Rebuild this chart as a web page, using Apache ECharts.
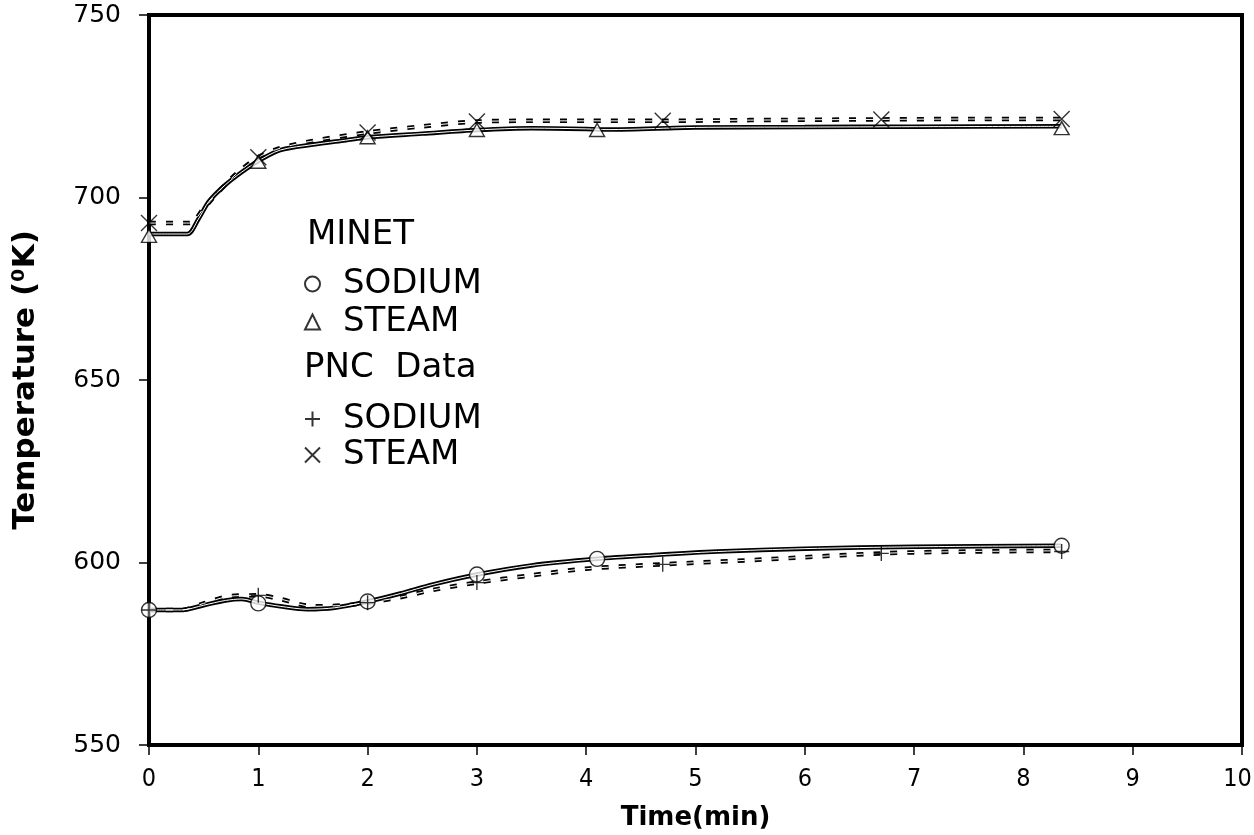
<!DOCTYPE html>
<html>
<head>
<meta charset="utf-8">
<script src="https://cdn.jsdelivr.net/npm/echarts@6/dist/echarts.min.js"></script>
<style>
html,body{margin:0;padding:0;background:#fff;}
#chart{width:1254px;height:835px;}
</style>
</head>
<body>
<div id="chart"></div>
<script>
// ---- data ----
var xTicks = [0,1,2,3,4,5,6,7,8,9,10];
var yTicks = [550,600,650,700,750];

// MINET sodium (solid line)
var minetSodiumT = [0, 0.3, 0.5, 0.7, 0.85, 1.0, 1.2, 1.45, 1.7, 2.0, 2.3, 2.6, 3.0, 3.5, 4.1, 4.6, 5.2, 6.0, 7.0, 8.35];
var minetSodiumV = [587, 587, 588.3, 589.6, 590, 589, 588, 587.2, 587.6, 589.3, 591.5, 594, 596.7, 599.2, 601, 602, 603, 603.8, 604.3, 604.6];
// PNC sodium (dashed line)
var pncSodiumT = [0, 0.3, 0.5, 0.75, 1.0, 1.2, 1.5, 1.8, 2.0, 2.3, 2.6, 3.0, 3.5, 4.0, 4.7, 5.6, 6.7, 7.5, 8.35];
var pncSodiumV = [587, 587, 588.8, 590.8, 591, 590, 588, 588.3, 589, 590.5, 592.5, 594.5, 596.5, 598.3, 599.5, 600.8, 602.5, 603, 603.2];
// MINET steam (solid line)
var minetSteamT = [0, 0.35, 0.45, 0.55, 0.7, 0.85, 1.0, 1.2, 1.5, 1.8, 2.0, 2.5, 3.0, 3.5, 4.0, 4.2, 5.0, 6.0, 7.0, 8.35];
var minetSteamV = [690, 690, 694, 699, 703.5, 707, 710, 713, 714.5, 715.7, 716.5, 717.5, 718.5, 719, 718.8, 718.6, 719.2, 719.3, 719.4, 719.5];
// PNC steam (dashed line)
var pncSteamT = [0, 0.37, 0.5, 0.65, 0.8, 1.0, 1.2, 1.5, 2.0, 2.5, 3.0, 3.5, 4.0, 4.7, 5.5, 6.7, 7.5, 8.35];
var pncSteamV = [693, 693, 697, 702, 706.5, 711, 713.5, 715.5, 717.8, 719.5, 720.8, 721, 721, 721, 721.2, 721.4, 721.5, 721.5];

// markers
var circleT = [0, 1.0, 2.0, 3.0, 4.1, 8.35];
var circleV = [587, 588.8, 589.3, 596.7, 601, 604.6];
var triT = [0, 1.0, 2.0, 3.0, 4.1, 8.35];
var triV = [689.5, 709.8, 716.5, 718.5, 718.5, 719];
var plusT = [0, 1.0, 2.0, 3.0, 4.7, 6.7, 8.35];
var plusV = [587, 591, 589, 594.5, 599.5, 602.5, 603];
var crossT = [0, 1.0, 2.0, 3.0, 4.7, 6.7, 8.35];
var crossV = [693, 711, 717.8, 720.8, 721, 721.4, 721.5];

function zip(a, b) { return a.map(function (v, i) { return [v, b[i]]; }); }

var FONT = 'DejaVu Sans';
var PLUS = 'path://M5,0L5,10M0,5L10,5';
var CROSS = 'path://M0,0L10,10M10,0L0,10';

function doubleLine(name, t, v, dashed) {
  var d = zip(t, v);
  var dash = dashed ? [7, 10] : 'solid';
  return [
    {name: name + '_o', type: 'line', data: d, symbol: 'none', smooth: 0.3, silent: true, z: 2,
     lineStyle: {color: '#000', width: 4.5, type: dash}},
    {name: name + '_i', type: 'line', data: d, symbol: 'none', smooth: 0.3, silent: true, z: 3,
     lineStyle: {color: '#fff', width: 1, type: dash}}
  ];
}

function markers(name, t, v, sym, size) {
  return {name: name, type: 'scatter', data: zip(t, v), symbol: sym, symbolSize: size, z: 5,
    itemStyle: {color: '#fff', borderColor: '#000', borderWidth: 1.4}};
}

var series = [].concat(
  doubleLine('ms', minetSodiumT, minetSodiumV, false),
  doubleLine('ps', pncSodiumT, pncSodiumV, true),
  doubleLine('mt', minetSteamT, minetSteamV, false),
  doubleLine('pt', pncSteamT, pncSteamV, true),
  [
    markers('MINET SODIUM', circleT, circleV, 'circle', 15),
    markers('MINET STEAM', triT, triV, 'triangle', [15, 13]),
    markers('PNC SODIUM', plusT, plusV, PLUS, 15),
    markers('PNC STEAM', crossT, crossV, CROSS, 16)
  ]
);

var chart = echarts.init(document.getElementById('chart'));
var legendText = {fontFamily: FONT, fontSize: 34, color: '#000', lineHeight: 30, padding: [0, 0, 0, 18]};
chart.setOption({
  animation: false,
  backgroundColor: '#fff',
  grid: {left: 149, right: 12, top: 15, bottom: 90, show: true, borderColor: '#000', borderWidth: 4,
         containLabel: false, outerBoundsMode: 'none'},
  xAxis: {
    type: 'value', min: 0, max: 10, interval: 1,
    name: 'Time(min)', nameLocation: 'middle', nameGap: 60,
    nameTextStyle: {fontFamily: FONT, fontSize: 26, fontWeight: 'bold', color: '#000'},
    axisLine: {lineStyle: {color: '#000', width: 4}},
    axisTick: {inside: false, length: 10, lineStyle: {color: '#000', width: 1.5}},
    axisLabel: {fontFamily: 'DejaVu Sans Condensed', fontSize: 25, color: '#000', margin: 22,
      rich: {r: {fontFamily: 'DejaVu Sans Condensed', fontSize: 25, color: '#000', padding: [0, 9, 0, 0]}},
      formatter: function (v) {
        if (xTicks.indexOf(v) < 0) return '';
        return v === xTicks[xTicks.length - 1] ? '{r|' + v + '}' : String(v);
      }},
    splitLine: {show: false}
  },
  yAxis: {
    type: 'value', min: 550, max: 750, interval: 50,
    name: 'Temperature (\u2070K)', nameLocation: 'middle', nameGap: 108,
    nameTextStyle: {fontFamily: FONT, fontSize: 31, fontWeight: 'bold', color: '#000'},
    axisLine: {lineStyle: {color: '#000', width: 4}},
    axisTick: {inside: false, length: 10, lineStyle: {color: '#000', width: 1.5}},
    axisLabel: {fontFamily: FONT, fontSize: 25, color: '#000', margin: 28,
      formatter: function (v) { return yTicks.indexOf(v) >= 0 ? String(v) : ''; }},
    splitLine: {show: false}
  },
  legend: [
    {orient: 'vertical', left: 299, top: 262, itemGap: 4, itemWidth: 15, itemHeight: 15,
     data: [{name: 'MINET SODIUM', icon: 'circle'}, {name: 'MINET STEAM', icon: 'triangle'}],
     formatter: function (n) { return n.split(' ')[1]; }, textStyle: legendText, selectedMode: false},
    {orient: 'vertical', left: 299, top: 397, itemGap: 2, itemWidth: 15, itemHeight: 15,
     data: [{name: 'PNC SODIUM', icon: PLUS}, {name: 'PNC STEAM', icon: CROSS}],
     formatter: function (n) { return n.split(' ')[1]; }, textStyle: legendText, selectedMode: false}
  ],
  graphic: [
    {type: 'text', left: 307, top: 218, style: {text: 'MINET', fontFamily: FONT, fontSize: 34, fill: '#000'}},
    {type: 'text', left: 304, top: 351, style: {text: 'PNC  Data', fontFamily: FONT, fontSize: 34, fill: '#000'}}
  ],
  series: series
});
</script>
</body>
</html>
